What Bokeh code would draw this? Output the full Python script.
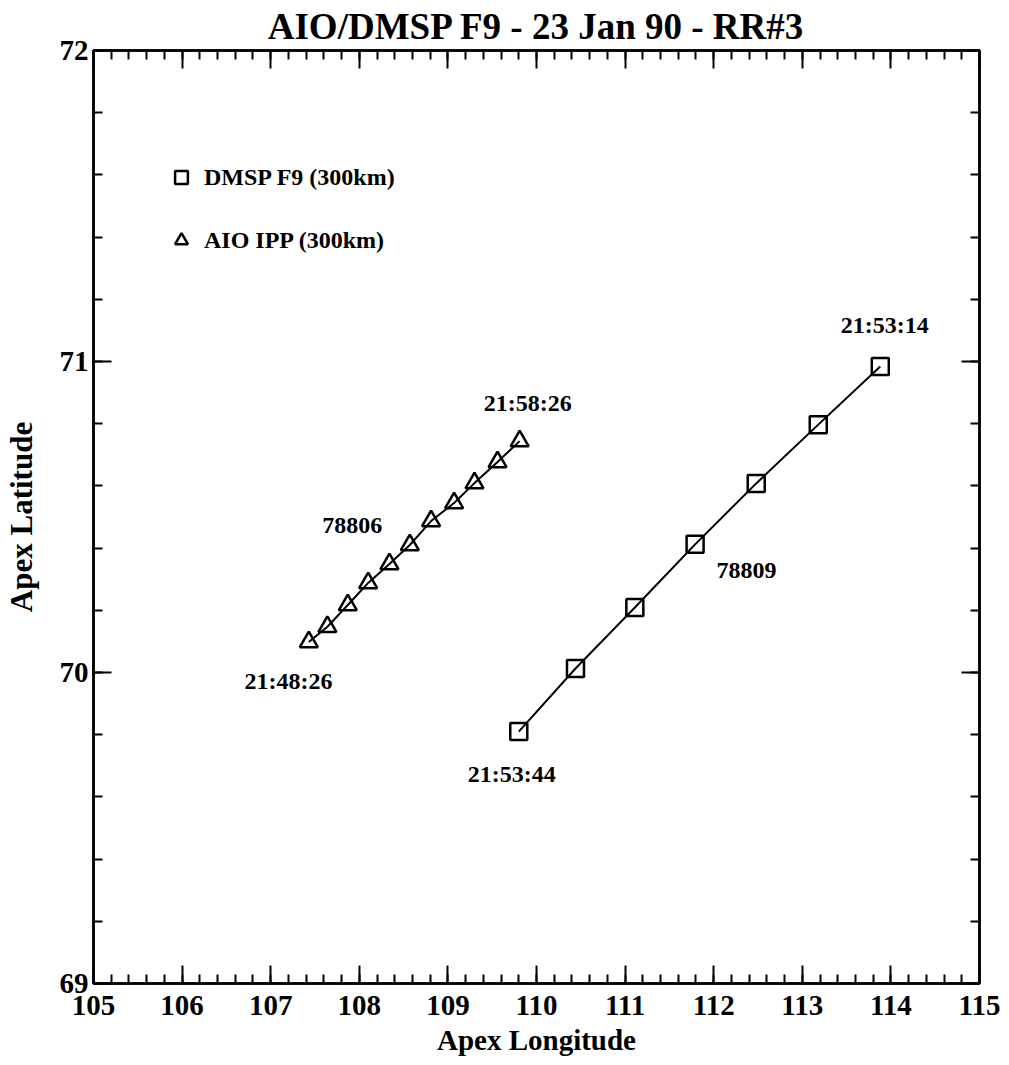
from bokeh.plotting import figure
from bokeh.models import (Range1d, LinearAxis, SingleIntervalTicker, Legend, LegendItem,
                          ColumnDataSource, CustomLabelingPolicy)
from bokeh.core.properties import value
from bokeh.embed import file_html
from bokeh.resources import INLINE

# ---- data ----
dmsp_lon = [113.88, 113.18, 112.48, 111.79, 111.11, 110.44, 109.80]
dmsp_lat = [70.984, 70.797, 70.608, 70.412, 70.209, 70.013, 69.810]

aio_lon = [107.43, 107.64, 107.87, 108.10, 108.34, 108.57, 108.81, 109.07, 109.30, 109.56, 109.81]
aio_lat = [70.098, 70.147, 70.217, 70.288, 70.349, 70.410, 70.487, 70.545, 70.609, 70.677, 70.744]

label_text = ["21:58:26", "78806", "21:48:26", "21:53:14", "78809", "21:53:44"]
label_lon = [109.90, 107.92, 107.20, 113.93, 112.37, 109.72]
label_lat = [70.868, 70.473, 69.974, 71.116, 70.328, 69.675]

series_names = ["DMSP F9 (300km)", "AIO IPP (300km)"]
title_text = "AIO/DMSP F9 - 23 Jan 90 - RR#3"
x_title = "Apex Longitude"
y_title = "Apex Latitude"

FONT = "Liberation Serif"

p = figure(width=1000, height=1060, output_backend="svg", toolbar_location=None,
           x_range=Range1d(105, 115), y_range=Range1d(69, 72),
           min_border_left=92, min_border_right=21, min_border_top=50, min_border_bottom=77)
p.background_fill_color = "white"
p.border_fill_color = "white"
p.grid.visible = False
p.outline_line_color = "black"
p.outline_line_width = 2.5

p.title.text = title_text
p.title.align = "center"
p.title.text_font = FONT
p.title.text_font_style = "bold"
p.title.text_font_size = "37px"
p.title.text_color = "black"
p.title.standoff = 0
p.title.offset = 0

xt = SingleIntervalTicker(interval=1, num_minor_ticks=5)
yt = SingleIntervalTicker(interval=1, num_minor_ticks=5)

hide_all = CustomLabelingPolicy(code="""
    for (const i of indices) { indices.unset(i) }
    return indices
""")

def style_axis(ax, labels=True):
    ax.axis_line_width = 2.5
    ax.axis_line_color = "black"
    ax.major_tick_in = 18
    ax.major_tick_out = 0
    ax.minor_tick_in = 9
    ax.minor_tick_out = 0
    ax.major_tick_line_width = 2
    ax.minor_tick_line_width = 2
    ax.major_tick_line_color = "black"
    ax.minor_tick_line_color = "black"
    ax.major_label_text_font = FONT
    ax.major_label_text_font_style = "bold"
    ax.major_label_text_color = "black"
    if labels:
        ax.major_label_text_font_size = "29px"
    else:
        ax.major_label_text_font_size = "1px"
        ax.major_label_standoff = 0
        ax.major_label_policy = hide_all

xa = p.xaxis[0]
xa.ticker = xt
style_axis(xa)
xa.major_label_standoff = 12
xa.axis_label = x_title
xa.axis_label_text_font = FONT
xa.axis_label_text_font_style = "bold"
xa.axis_label_text_font_size = "29px"
xa.axis_label_text_color = "black"
xa.axis_label_standoff = 6

ya = p.yaxis[0]
ya.ticker = yt
style_axis(ya)
ya.major_label_standoff = 5
ya.axis_label = y_title
ya.axis_label_text_font = FONT
ya.axis_label_text_font_style = "bold"
ya.axis_label_text_font_size = "31px"
ya.axis_label_text_color = "black"
ya.axis_label_standoff = 18

top = LinearAxis(ticker=xt)
style_axis(top, labels=False)
p.add_layout(top, "above")
right = LinearAxis(ticker=yt)
style_axis(right, labels=False)
p.add_layout(right, "right")

# ---- series ----
dsrc = ColumnDataSource(dict(x=dmsp_lon, y=dmsp_lat))
asrc = ColumnDataSource(dict(x=aio_lon, y=aio_lat))

p.line("x", "y", source=dsrc, line_color="black", line_width=2)
p.line("x", "y", source=asrc, line_color="black", line_width=2)
sq = p.scatter("x", "y", source=dsrc, marker="square", size=17, fill_alpha=0,
               line_color="black", line_width=2.5)
tr = p.scatter("x", "y", source=asrc, marker="triangle", size=18, fill_alpha=0,
               line_color="black", line_width=2.5)

lsrc = ColumnDataSource(dict(x=label_lon, y=label_lat, t=label_text))
p.text("x", "y", text="t", source=lsrc, text_align="center", text_baseline="middle",
       text_font=value(FONT), text_font_style="bold", text_font_size="24px", text_color="black")

legend = Legend(items=[LegendItem(label=series_names[0], renderers=[sq]),
                       LegendItem(label=series_names[1], renderers=[tr])],
                location=(72, 727), margin=0, padding=0, spacing=31,
                glyph_width=32, glyph_height=32, label_standoff=7,
                label_text_font=FONT, label_text_font_style="bold",
                label_text_font_size="24px", label_text_color="black",
                background_fill_alpha=0, border_line_color=None)
p.add_layout(legend, "center")

open("out.html", "w").write(file_html(p, INLINE))
